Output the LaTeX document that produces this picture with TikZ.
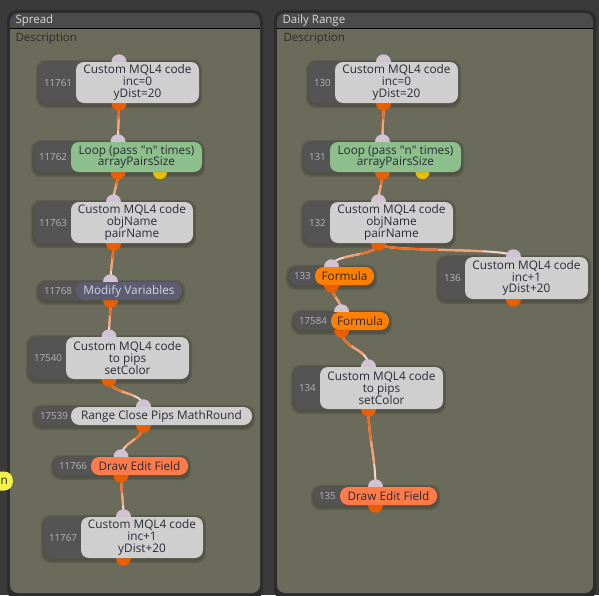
\documentclass[tikz,border=0pt]{standalone}
\usepackage{fontspec}
\setmainfont{Open Sans}
\usepackage{tikz}
\usetikzlibrary{calc, positioning}
\usepackage{xcolor}

\definecolor{bgdark}{HTML}{3A3A3A}
\definecolor{framedark}{HTML}{2C2C2C}
\definecolor{titlegray}{HTML}{4B4B4B}
\definecolor{bodyolive}{HTML}{6B6B5B}
\definecolor{idgray}{HTML}{545454}
\definecolor{idtext}{HTML}{B4B4B4}
\definecolor{boxgray}{HTML}{CFCFCF}
\definecolor{boxtext}{HTML}{2A2A35}
\definecolor{loopgreen}{HTML}{8DBF8D}
\definecolor{modslate}{HTML}{5C5C72}
\definecolor{modtext}{HTML}{D4D4E2}
\definecolor{drawcoral}{HTML}{FF7B4C}
\definecolor{formorange}{HTML}{FF8000}
\definecolor{portin}{HTML}{D2C2D2}
\definecolor{portout}{HTML}{E85E00}
\definecolor{portyel}{HTML}{E6C000}
\definecolor{wirepale}{HTML}{F4D6CC}
\definecolor{wiremid}{HTML}{F8A070}
\definecolor{wirehot}{HTML}{F26A1A}
\definecolor{npillyel}{HTML}{F2F24A}
\definecolor{titletext}{HTML}{D8D8D8}
\definecolor{desctext}{HTML}{2E2E2E}

\pgfdeclarelayer{back}
\pgfdeclarelayer{wires}
\pgfsetlayers{back,wires,main}

\newcommand{\boxfont}{\fontsize{11.8}{11.8}\selectfont}
\newcommand{\idfont}{\fontsize{9.8}{10}\selectfont}

\begin{document}
\begin{tikzpicture}[x=1pt, y=-1pt,
    idbox/.style={fill=idgray, rounded corners=8pt, inner xsep=5pt, inner ysep=0pt, align=left, font=\idfont, text=idtext},
    codebox/.style={fill=boxgray, rounded corners=8pt, inner sep=0pt, align=center, font=\boxfont, text=boxtext, anchor=east},
    loopbox/.style={codebox, fill=loopgreen},
    modbox/.style={codebox, fill=modslate, text=modtext, rounded corners=8.5pt},
    drawbox/.style={codebox, fill=drawcoral, rounded corners=8.5pt},
    formbox/.style={codebox, fill=formorange, rounded corners=8.5pt},
    pillid/.style={idbox, rounded corners=8.5pt},
    wire/.style={line width=2pt, line cap=round},
    softshade/.style={fill=black, opacity=0.12, rounded corners=10pt},
    paneltitle/.style={anchor=west, text=titletext, font=\fontsize{11.5}{12}\selectfont},
    paneldesc/.style={anchor=west, text=desctext, font=\fontsize{11.5}{12}\selectfont}]

  \useasboundingbox (0,0) rectangle (599,595);
  \clip (0,0) rectangle (599,595);

  % panels
  \begin{pgfonlayer}{back}
    \fill[bgdark] (0,0) rectangle (599,595);
    \foreach \pl/\pr in {10/260, 277/593} {
      \fill[framedark, rounded corners=10pt] (\pl-3,10) rectangle (\pr+3,600);
      \fill[bodyolive] (\pl,28) [rounded corners=8pt] -- (\pl,593) -- (\pr,593) [sharp corners] -- (\pr,28) -- cycle;
      \fill[titlegray] (\pl,28) [rounded corners=8pt] -- (\pl,13) -- (\pr,13) [sharp corners] -- (\pr,28) -- cycle;
      \draw[black, line width=1pt] (\pl,28) -- (\pr,28);
    }
  \end{pgfonlayer}

  \node[paneltitle] (spreadtitle) at (12,20.5) {Spread};
  \node[paneldesc] (spreaddesc) at (12,39) {Description};
  \node[paneltitle] (dailytitle) at (279,20.5) {Daily Range};
  \node[paneldesc] (dailydesc) at (280,39) {Description};

  % Spread blocks
  \node[idbox, text width=150pt, minimum height=41pt] (b11761) at (119,82.5) {11761};
  \node[codebox, minimum width=123pt, minimum height=41pt] (c11761) at (b11761.east) {Custom MQL4 code\\inc=0\\yDist=20};
  \node[idbox, text width=158pt, minimum height=30pt] (b11762) at (118,157) {11762};
  \node[loopbox, minimum width=131pt, minimum height=30pt] (c11762) at (b11762.east) {Loop (pass \textquotedbl n\textquotedbl{} times)\\arrayPairsSize};
  \node[idbox, text width=149pt, minimum height=41pt] (b11763) at (113.5,222.5) {11763};
  \node[codebox, minimum width=122pt, minimum height=41pt] (c11763) at (b11763.east) {Custom MQL4 code\\objName\\pairName};
  \node[pillid, text width=133pt, minimum height=18pt] (b11768) at (110.5,291) {11768};
  \node[modbox, minimum width=106pt, minimum height=18pt] (c11768) at (b11768.east) {Modify Variables};
  \node[idbox, text width=150pt, minimum height=42pt] (b17540) at (109,358) {17540};
  \node[codebox, minimum width=123pt, minimum height=42pt] (c17540) at (b17540.east) {Custom MQL4 code\\to pips\\setColor};
  \node[pillid, text width=207pt, minimum height=18pt] (b17539) at (143.5,416) {17539};
  \node[codebox, rounded corners=8.5pt, minimum width=181pt, minimum height=18pt] (c17539) at (b17539.east) {Range Close Pips MathRound};
  \node[pillid, text width=124pt, minimum height=18pt] (b11766) at (121,466) {11766};
  \node[drawbox, minimum width=97pt, minimum height=18pt] (c11766) at (b11766.east) {Draw Edit Field};
  \node[idbox, text width=149pt, minimum height=41pt] (b11767) at (123.5,537.5) {11767};
  \node[codebox, minimum width=122pt, minimum height=41pt] (c11767) at (b11767.east) {Custom MQL4 code\\inc+1\\yDist+20};
  \node[fill=npillyel, rounded corners=8.5pt, text width=20pt, align=right, inner xsep=5pt, inner ysep=0pt, minimum height=19pt, anchor=east, font=\boxfont, text=boxtext] (npill) at (13,481) {n};

  % Daily Range blocks
  \node[idbox, text width=139pt, minimum height=41pt] (b130) at (383.5,82.5) {130};
  \node[codebox, minimum width=123pt, minimum height=41pt] (c130) at (b130.east) {Custom MQL4 code\\inc=0\\yDist=20};
  \node[idbox, text width=147pt, minimum height=30pt] (b131) at (382.5,157) {131};
  \node[loopbox, minimum width=131pt, minimum height=30pt] (c131) at (b131.east) {Loop (pass \textquotedbl n\textquotedbl{} times)\\arrayPairsSize};
  \node[idbox, text width=139pt, minimum height=41pt] (b132) at (378.5,222.5) {132};
  \node[codebox, minimum width=123pt, minimum height=41pt] (c132) at (b132.east) {Custom MQL4 code\\objName\\pairName};
  \node[pillid, text width=75pt, minimum height=18pt] (b133) at (331.5,276) {133};
  \node[formbox, minimum width=59pt, minimum height=18pt] (c133) at (b133.east) {Formula};
  \node[idbox, text width=139pt, minimum height=42pt] (b136) at (513.5,278) {136};
  \node[codebox, minimum width=123pt, minimum height=42pt] (c136) at (b136.east) {Custom MQL4 code\\inc+1\\yDist+20};
  \node[pillid, text width=85pt, minimum height=18pt] (b17584) at (341.5,321) {17584};
  \node[formbox, minimum width=58pt, minimum height=18pt] (c17584) at (b17584.east) {Formula};
  \node[idbox, text width=139pt, minimum height=42pt] (b134) at (368.5,388) {134};
  \node[codebox, minimum width=123pt, minimum height=42pt] (c134) at (b134.east) {Custom MQL4 code\\to pips\\setColor};
  \node[pillid, text width=113pt, minimum height=18pt] (b135) at (375.5,496) {135};
  \node[drawbox, minimum width=97pt, minimum height=18pt] (c135) at (b135.east) {Draw Edit Field};

  % shadows, wires and ports
  \begin{pgfonlayer}{wires}
    \foreach \n in {11761,11762,11763,11768,17540,17539,11766,11767,130,131,132,133,136,17584,134,135} {
      \fill[softshade] ([shift={(-3pt,-5pt)}]b\n.south west) rectangle ([shift={(3pt,2pt)}]b\n.north east);
      \fill[softshade] ([shift={(-1.5pt,-3.5pt)}]b\n.south west) rectangle ([shift={(1.5pt,0.5pt)}]b\n.north east);
    }
    \foreach \a/\b/\l/\k in {b11761/b11762/39/15, b11762/b11763/30/12, b11763/b11768/39/15,
        b11768/b17540/37/15, b17540/b17539/45/16, b17539/b11766/40/15, b11766/b11767/42/16,
        b130/b131/39/15, b131/b132/30/12, b132/b133/55/14, b132/b136/150/10,
        b133/b17584/30/12, b17584/b134/48/20, b134/b135/78/30} {
      \pgfmathsetmacro\lmid{0.7*\l}
      \pgfmathsetmacro\lhot{0.4*\l}
      \draw[wire, wirepale] (\a.south) .. controls +(0,\k) and +(0,-\k) .. (\b.north);
      \draw[wire, wiremid, dash pattern=on \lmid pt off 2000pt] (\a.south) .. controls +(0,\k) and +(0,-\k) .. (\b.north);
      \draw[wire, wirehot, dash pattern=on \lhot pt off 2000pt] (\a.south) .. controls +(0,\k) and +(0,-\k) .. (\b.north);
    }
    \foreach \n in {11761,11762,11763,11768,17540,17539,11766,11767,130,131,132,133,136,17584,134,135} {
      \fill[portin] (b\n.north) circle[radius=7.5pt];
      \fill[portout] (b\n.south) circle[radius=7.5pt];
    }
    \fill[portyel] ([xshift=42pt]b11762.south) circle[radius=7pt];
    \fill[portyel] ([xshift=40pt]b131.south) circle[radius=7pt];
  \end{pgfonlayer}
\end{tikzpicture}
\end{document}
